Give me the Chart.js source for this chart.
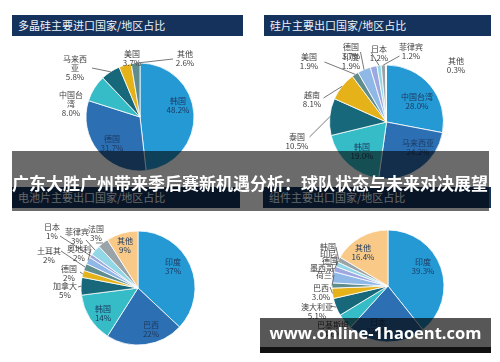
<!DOCTYPE html>
<html lang="zh-CN">
<head>
<meta charset="UTF-8">
<title>光伏产品进出口国家/地区占比</title>
<script src="https://cdn.jsdelivr.net/npm/chart.js"></script>
<style>
  html, body { margin: 0; padding: 0; background: #fff; }
  body { width: 500px; height: 362px; position: relative; overflow: hidden;
         font-family: "Noto Sans CJK SC", "Noto Sans", sans-serif; }
  .bar { position: absolute; background: #14325c; color: #eef2f7; font-size: 11px;
         line-height: 21px; height: 21px; padding-left: 6px; box-sizing: border-box; }
  canvas { position: absolute; }
  .banner { position: absolute; left: 12px; top: 151px; width: 477px; height: 60px;
            background: rgba(0,0,0,0.58); z-index: 5; }
  .banner-text { position: absolute; left: 0; top: 172px; width: 500px; text-align: center;
                 color: #fff; font-weight: bold; font-size: 17px; line-height: 22px; z-index: 6; }
  .mark { position: absolute; left: 260px; top: 318px; width: 231px; height: 29px;
          background: rgba(0,0,0,0.66); z-index: 5; color: #fff; font-family: "Open Sans", sans-serif;
          font-weight: bold; font-size: 16.5px; line-height: 29px; text-align: center; white-space: nowrap; }
  .mark-foot { position: absolute; left: 260px; top: 347px; width: 231px; height: 6px;
               background: #111; z-index: 5; }
</style>
</head>
<body>
<div class="bar" style="left:12px;top:15px;width:231px;">多晶硅主要进口国家/地区占比</div>
<div class="bar" style="left:264px;top:15px;width:227px;">硅片主要出口国家/地区占比</div>
<div class="bar" style="left:12px;top:187px;width:228px;">电池片主要出口国家/地区占比</div>
<div class="bar" style="left:263px;top:187px;width:228px;">组件主要出口国家/地区占比</div>

<canvas id="c1"></canvas>
<canvas id="c2"></canvas>
<canvas id="c3"></canvas>
<canvas id="c4"></canvas>

<div class="banner"></div>
<div class="banner-text">广东大胜广州带来季后赛新机遇分析：球队状态与未来对决展望</div>
<div class="mark">www.online-1haoent.com</div>
<div class="mark-foot"></div>

<script>
// 数据
const p1Names = ['韩国', '德国', '中国台湾', '马来西亚', '美国', '其他'];
const p1Values = [48.2, 31.7, 8.0, 5.8, 3.7, 2.6];

const p2Names = ['中国台湾', '马来西亚', '韩国', '泰国', '越南', '美国', '德国', '印度', '日本', '菲律宾', '其他'];
const p2Values = [28.0, 24.2, 19.0, 10.5, 8.1, 1.9, 3.7, 1.9, 1.2, 1.2, 0.3];

const p3Names = ['印度', '巴西', '韩国', '加拿大', '德国', '土耳其', '奥地利', '日本', '菲律宾', '法国', '其他'];
const p3Values = [37, 22, 14, 5, 2, 2, 2, 1, 3, 3, 9];

const p4Names = ['印度', '日本', '巴基斯坦', '澳大利亚', '巴西', '荷兰', '墨西哥', '德国', '印尼', '韩国', '其他'];
const p4Values = [39.3, 22.4, 4.6, 5.1, 3.0, 1.5, 3.2, 1.6, 1.4, 1.5, 16.4];

// 颜色
const blue = '#2499d4', blue2 = '#2c6fb3', teal = '#35bcc6', dteal = '#17687a', gold = '#e6b21a',
      gteal = '#5f8d8e', lblue = '#8fb8e6', purple = '#9ea8e0', lcyan = '#93d7e6', grey = '#9aa3a8',
      peach = '#f8c987', pale = '#b9d3d3';
const p1Colors = [blue, blue2, teal, dteal, gold, gteal];
const p2Colors = [blue, blue2, teal, dteal, gold, gteal, lblue, purple, lcyan, grey, pale];
const p3Colors = [blue, blue2, teal, dteal, gold, gteal, lblue, purple, lcyan, grey, peach];
const p4Colors = [blue, blue2, teal, dteal, gold, gteal, lblue, purple, lcyan, grey, peach];

// 标签位置（相对饼图圆心）
const p1Layout = {
  '韩国': { dx: 38, dy: -12, inside: true },
  '德国': { dx: -28, dy: 26, inside: true },
  '中国台湾': { dx: -69, dy: -13, wrap: ['中国台', '湾'] },
  '马来西亚': { dx: -65, dy: -49, wrap: ['马来西', '亚'], tie: [-48, -49] },
  '美国': { dx: -8, dy: -59 },
  '其他': { dx: 45, dy: -59, tie: [33, -58] }
};
const p2Layout = {
  '中国台湾': { dx: 30.5, dy: -21, inside: true },
  '马来西亚': { dx: 31.5, dy: 25, inside: true },
  '韩国': { dx: -24.5, dy: 29, inside: true },
  '泰国': { dx: -89.5, dy: 19, tie: [-77, 15] },
  '越南': { dx: -74.5, dy: -22.5, tie: [-63, -24] },
  '美国': { dx: -77.5, dy: -61, tie: [-62, -60] },
  '德国': { dx: -35.5, dy: -70.5, tie: [-26, -70] },
  '印度': { dx: -35.5, dy: -60.5 },
  '日本': { dx: -7.5, dy: -69, tie: [-15.5, -70] },
  '菲律宾': { dx: 24.5, dy: -71, tie: [13, -66] },
  '其他': { dx: 69.5, dy: -56.5 }
};
const p3Layout = {
  '印度': { dx: 35, dy: -21.5, inside: true },
  '巴西': { dx: 13, dy: 41.5, inside: true },
  '韩国': { dx: -35, dy: 25.5, inside: true },
  '其他': { dx: -13, dy: -42.5, inside: true },
  '加拿大': { dx: -73, dy: 2.5, tie: [-60, -1] },
  '德国': { dx: -69, dy: -14.5, tie: [-58, -16] },
  '土耳其': { dx: -89, dy: -32.5, tie: [-77, -37] },
  '奥地利': { dx: -59, dy: -34.5, tie: [-47, -39] },
  '日本': { dx: -86, dy: -56.5, tie: [-78, -52] },
  '菲律宾': { dx: -61, dy: -52, tie: [-52, -48] },
  '法国': { dx: -42, dy: -54.5, tie: [-42, -45] }
};
const p4Layout = {
  '印度': { dx: 35, dy: -19.5, inside: true },
  '其他': { dx: -25, dy: -33.5, inside: true },
  '日本': { dx: -10, dy: 40.5, inside: true },
  '巴基斯坦': { dx: -55, dy: 43.5, tie: [-40, 37] },
  '澳大利亚': { dx: -71, dy: 25, tie: [-58, 20] },
  '巴西': { dx: -67, dy: 6.5, tie: [-58, 1] },
  '荷兰': { dx: -64, dy: -11, tie: [-54, -11], noValue: true },
  '墨西哥': { dx: -66, dy: -18, tie: [-54, -18], noValue: true },
  '德国': { dx: -58, dy: -25, tie: [-50, -25], noValue: true },
  '印尼': { dx: -60, dy: -32, tie: [-52, -32], noValue: true },
  '韩国': { dx: -60, dy: -39, tie: [-52, -39], noValue: true }
};

// 画饼图上的文字和引线
const sliceLabels = {
  id: 'sliceLabels',
  afterDatasetsDraw(chart, args, opts) {
    const ctx = chart.ctx;
    const meta = chart.getDatasetMeta(0);
    const names = chart.data.labels;
    const vals = chart.data.datasets[0].data;
    ctx.save();
    ctx.font = '8px "Noto Sans CJK SC", sans-serif';
    ctx.textAlign = 'center';
    ctx.textBaseline = 'middle';
    meta.data.forEach((arc, i) => {
      const cfg = opts.layout[names[i]];
      if (!cfg) return;
      const p = arc.getProps(['x', 'y', 'startAngle', 'endAngle', 'outerRadius'], true);
      const lines = (cfg.wrap || [names[i]]).slice();
      if (!cfg.noValue) lines.push(vals[i].toFixed(opts.decimals) + '%');
      if (cfg.tie) {
        const mid = (p.startAngle + p.endAngle) / 2;
        ctx.strokeStyle = '#555';
        ctx.lineWidth = 0.8;
        ctx.beginPath();
        ctx.moveTo(p.x + cfg.tie[0], p.y + cfg.tie[1]);
        ctx.lineTo(p.x + Math.cos(mid) * p.outerRadius, p.y + Math.sin(mid) * p.outerRadius);
        ctx.stroke();
      }
      ctx.fillStyle = cfg.inside ? '#1d3a60' : '#404040';
      const top = p.y + cfg.dy - (lines.length - 1) * 4.5;
      lines.forEach((t, k) => ctx.fillText(t, p.x + cfg.dx, top + k * 9));
    });
    ctx.restore();
  }
};

function makePie(id, box, cx, cy, r, names, values, colors, layout, decimals) {
  const cv = document.getElementById(id);
  cv.width = box.w; cv.height = box.h;
  cv.style.left = box.x + 'px'; cv.style.top = box.y + 'px';
  return new Chart(cv, {
    type: 'pie',
    data: {
      labels: names,
      datasets: [{ data: values, backgroundColor: colors, borderColor: '#fff', borderWidth: 0.8 }]
    },
    options: {
      responsive: false,
      animation: false,
      devicePixelRatio: 1,
      radius: r,
      layout: { padding: {
        left: cx - box.x - r, top: cy - box.y - r,
        right: box.x + box.w - cx - r, bottom: box.y + box.h - cy - r } },
      plugins: {
        legend: { display: false },
        tooltip: { enabled: false },
        sliceLabels: { layout: layout, decimals: decimals }
      }
    },
    plugins: [sliceLabels]
  });
}

makePie('c1', { x: 12, y: 38, w: 231, h: 150 }, 140, 117, 54, p1Names, p1Values, p1Colors, p1Layout, 1);
makePie('c2', { x: 262, y: 38, w: 230, h: 150 }, 386.5, 122, 57, p2Names, p2Values, p2Colors, p2Layout, 1);
makePie('c3', { x: 12, y: 210, w: 231, h: 150 }, 138, 288, 57, p3Names, p3Values, p3Colors, p3Layout, 0);
makePie('c4', { x: 262, y: 210, w: 230, h: 150 }, 388, 286, 56, p4Names, p4Values, p4Colors, p4Layout, 1);
</script>
</body>
</html>
